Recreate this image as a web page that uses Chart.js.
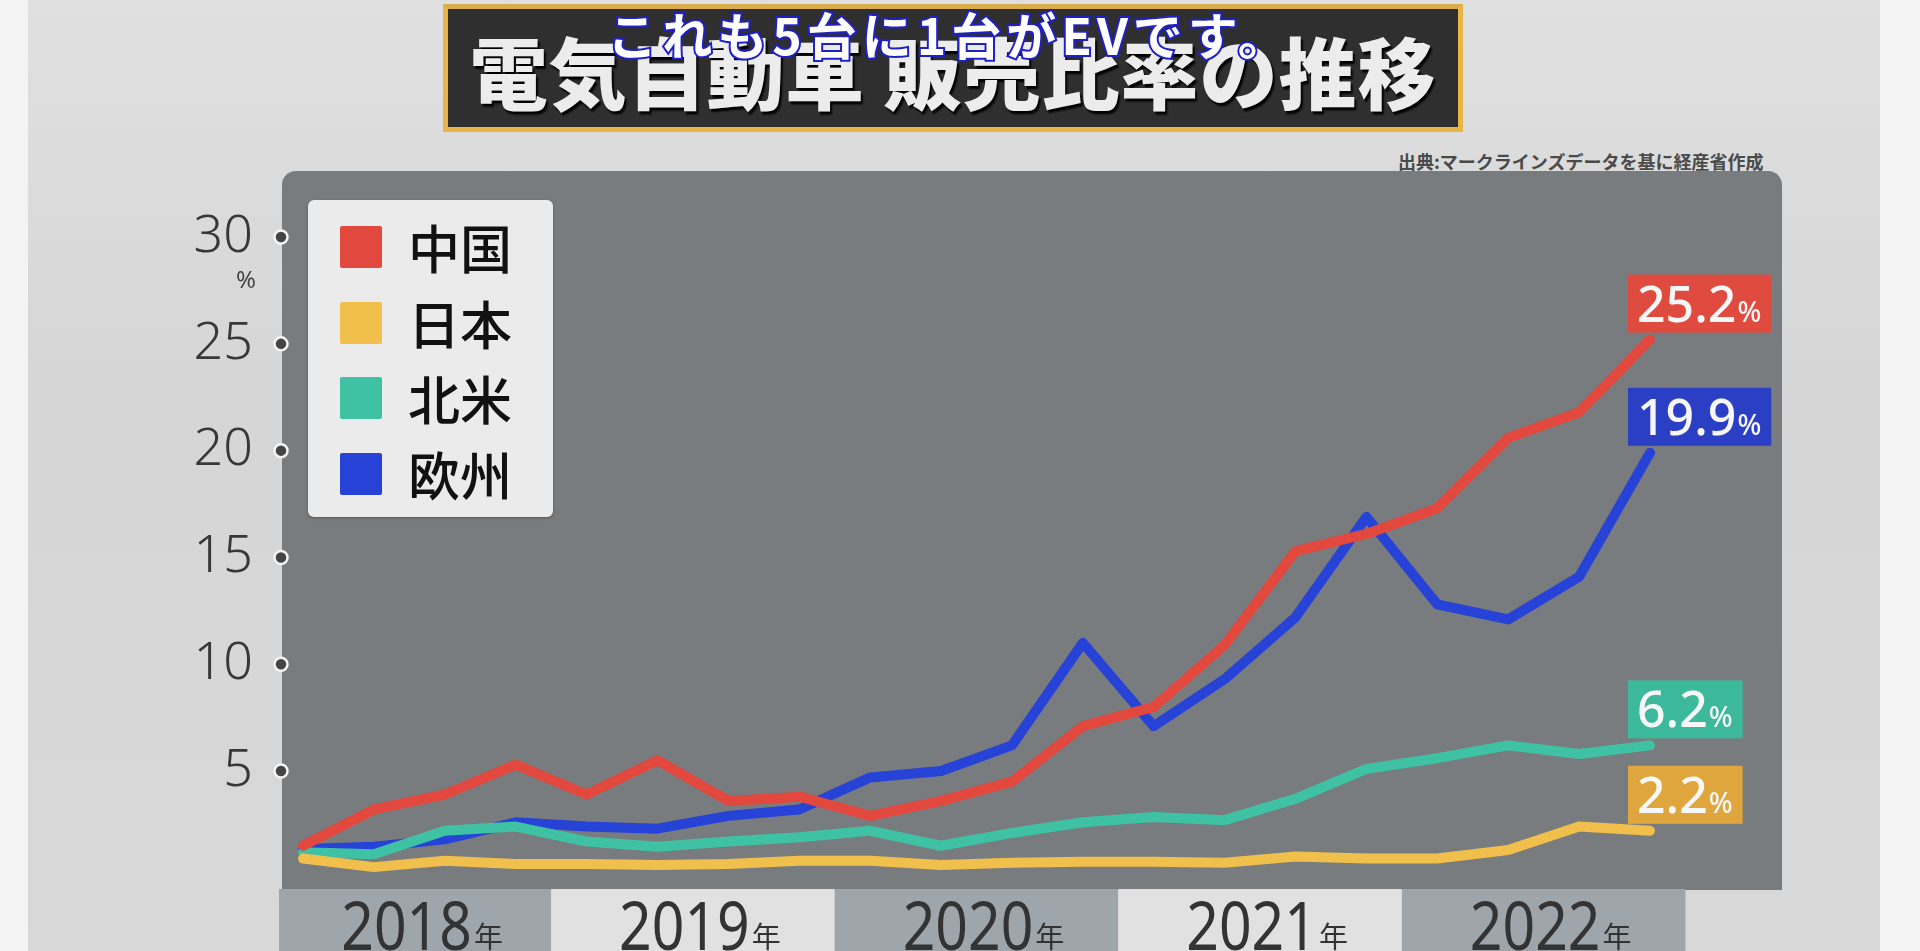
<!DOCTYPE html>
<html>
<head>
<meta charset="utf-8">
<script src="https://cdn.jsdelivr.net/npm/chart.js@4.4.0/dist/chart.umd.min.js"></script>
<style>
  html, body { margin: 0; padding: 0; }
  body { width: 1920px; height: 951px; overflow: hidden; position: relative; background: #f3f3f3; font-family: 'Noto Sans CJK JP', 'Noto Sans', sans-serif; }
  #bg { position: absolute; left: 28px; top: 0; width: 1852px; height: 951px; background: linear-gradient(to bottom, #e0e0e0, #d6d6d6 40%, #d8d8d8); }
  #titleBox { position: absolute; left: 443px; top: 4px; width: 1010px; height: 118px; background: #2f2f2f; border: 5px solid #e7b646; border-top-color: #d8ad4a; }
  #title { position: absolute; left: 0; right: 0; top: 22px; text-align: center; color: #ececec; font-size: 78px; font-weight: 900; letter-spacing: 1px; line-height: 1; text-shadow: 2px 3px 2px #000; }
  #caption { position: absolute; left: 520px; width: 860px; top: 8px; text-align: center; font-size: 50px; font-weight: 700; line-height: 1; letter-spacing: 5px; color: #fff; -webkit-text-stroke: 4px #2020c8; paint-order: stroke fill; }
  #source { position: absolute; left: 1398px; top: 148px; font-size: 18px; font-weight: 700; color: #4a4a4a; white-space: nowrap; }
  #panel { position: absolute; left: 282px; top: 171px; width: 1500px; height: 719px; background: #797c7f; border-radius: 14px 14px 0 0; }
  #wrap { position: absolute; left: 0; top: 0; width: 1920px; height: 951px; }
  #legend { position: absolute; left: 308px; top: 200px; width: 245px; height: 317px; background: #ebebeb; border-radius: 6px; box-shadow: 0 1px 3px rgba(0,0,0,0.3); }
  .row { position: absolute; left: 32px; height: 52px; display: flex; align-items: center; }
  .sw { width: 42px; height: 42px; border-radius: 2px; margin-right: 26px; }
  .lbl { font-size: 52px; font-weight: 500; color: #111; line-height: 1; }
</style>
</head>
<body>
<div id="bg"></div>
<div id="titleBox"><div id="title">電気自動車 販売比率の推移</div></div>
<div id="caption">これも5台に1台がEVです。</div>
<div id="source">出典:マークラインズデータを基に経産省作成</div>
<div id="panel"></div>
<div id="wrap"><canvas id="myChart"></canvas></div>
<div id="legend"></div>
<script>
// quarterly share of EV sales, 2018 Q1 - 2022 Q4 (%)
var quarters = ["2018Q1","2018Q2","2018Q3","2018Q4","2019Q1","2019Q2","2019Q3","2019Q4",
                "2020Q1","2020Q2","2020Q3","2020Q4","2021Q1","2021Q2","2021Q3","2021Q4",
                "2022Q1","2022Q2","2022Q3","2022Q4"];
var years = ["2018", "2019", "2020", "2021", "2022"];
var seriesNames = ["中国", "日本", "北米", "欧州"];
var china  = [1.5, 3.2, 3.9, 5.3, 3.9, 5.5, 3.6, 3.8, 2.9, 3.6, 4.5, 7.1, 8.0, 10.9, 15.3, 16.1, 17.3, 20.6, 21.8, 25.2];
var japan  = [0.9, 0.5, 0.8, 0.65, 0.65, 0.6, 0.65, 0.8, 0.8, 0.6, 0.7, 0.75, 0.75, 0.7, 1.0, 0.9, 0.9, 1.3, 2.4, 2.2];
var northAmerica = [1.2, 1.1, 2.2, 2.4, 1.7, 1.45, 1.7, 1.9, 2.2, 1.5, 2.1, 2.6, 2.85, 2.7, 3.7, 5.1, 5.6, 6.2, 5.8, 6.2];
var europe = [1.35, 1.45, 1.8, 2.6, 2.4, 2.3, 2.9, 3.2, 4.7, 5.0, 6.2, 11.0, 7.1, 9.3, 12.2, 16.9, 12.8, 12.1, 14.1, 19.9];
var yTicks = [5, 10, 15, 20, 25, 30];

var lineColors = ["#e2483d", "#f0bf4c", "#3fc1a4", "#2742d6"];
var boxColors  = ["#e04b40", "#dea63c", "#3cb89b", "#2b3fc4"];
var allSeries = [china, japan, northAmerica, europe];

// legend
var legend = document.getElementById("legend");
for (var i = 0; i < seriesNames.length; i++) {
  legend.innerHTML += '<div class="row" style="top:' + (21 + i * 75.5) + 'px">' +
    '<div class="sw" style="background:' + lineColors[i] + '"></div>' +
    '<div class="lbl">' + seriesNames[i] + '</div></div>';
}

var BAND_LEFT = 279;

var decorPlugin = {
  id: "decor",
  afterDraw: function(chart) {
    var ctx = chart.ctx;
    var xs = chart.scales.x, ys = chart.scales.y;
    var step = xs.getPixelForValue(1) - xs.getPixelForValue(0);
    // year bands
    for (var i = 0; i < years.length; i++) {
      var l = i === 0 ? BAND_LEFT : xs.getPixelForValue(i * 4) - step / 2;
      var r = xs.getPixelForValue(i * 4 + 3) + step / 2;
      ctx.fillStyle = i % 2 === 0 ? "#9ea6ab" : "#e1e1e1";
      ctx.fillRect(l, 889, r - l, 62);
      ctx.fillStyle = "#333";
      ctx.font = "400 68px 'Noto Sans'";
      var w1 = ctx.measureText(years[i]).width * 0.84;
      ctx.font = "400 29px 'Noto Sans CJK JP'";
      var w2 = ctx.measureText("年").width;
      var cx = (l + r) / 2 + 6;
      var x0 = cx - (w1 + w2) / 2;
      ctx.textBaseline = "alphabetic";
      ctx.textAlign = "left";
      ctx.save();
      ctx.translate(x0, 950);
      ctx.scale(0.84, 1);
      ctx.font = "400 68px 'Noto Sans'";
      ctx.fillText(years[i], 0, 0);
      ctx.restore();
      ctx.font = "400 29px 'Noto Sans CJK JP'";
      ctx.fillText("年", x0 + w1 + 2, 948);
    }
    // tick dots on the panel edge
    yTicks.forEach(function(v) {
      var y = ys.getPixelForValue(v);
      ctx.beginPath();
      ctx.arc(281, y, 6.5, 0, Math.PI * 2);
      ctx.fillStyle = "#444";
      ctx.fill();
      ctx.lineWidth = 2.5;
      ctx.strokeStyle = "#f4f4f4";
      ctx.stroke();
    });
    // unit
    ctx.fillStyle = "#444";
    ctx.font = "400 24px 'Noto Sans'";
    ctx.textAlign = "center";
    ctx.textBaseline = "middle";
    ctx.fillText("%", 246, ys.getPixelForValue(30) + 44);
    // end value boxes
    chart.data.datasets.forEach(function(ds, di) {
      var pt = chart.getDatasetMeta(di).data[ds.data.length - 1];
      var txt = ds.data[ds.data.length - 1].toFixed(1);
      ctx.font = "500 50px 'Noto Sans'";
      var nw = ctx.measureText(txt).width;
      ctx.font = "500 28px 'Noto Sans'";
      var pw = ctx.measureText("%").width;
      var bx = pt.x - 22, bh = 58, by = pt.y - 36 - bh / 2;
      var bw = nw + pw + 20;
      ctx.fillStyle = boxColors[di];
      ctx.fillRect(bx, by, bw, bh);
      ctx.fillStyle = "#f7f7f7";
      ctx.textAlign = "left";
      ctx.textBaseline = "alphabetic";
      ctx.font = "500 50px 'Noto Sans'";
      ctx.fillText(txt, bx + 9, by + bh - 11);
      ctx.font = "500 28px 'Noto Sans'";
      ctx.fillText("%", bx + 10 + nw, by + bh - 11);
    });
  }
};

new Chart("myChart", {
  type: "line",
  data: {
    labels: quarters,
    datasets: allSeries.map(function(d, i) {
      return {
        label: seriesNames[i],
        data: d,
        borderColor: lineColors[i],
        borderWidth: 10,
        pointRadius: 0,
        tension: 0,
        borderJoinStyle: "round",
        borderCapStyle: "round",
        fill: false
      };
    })
  },
  options: {
    responsive: true,
    maintainAspectRatio: false,
    animation: false,
    layout: { padding: { left: 0, right: 270, top: 173, bottom: 65 } },
    plugins: { legend: { display: false }, tooltip: { enabled: false } },
    scales: {
      x: { display: false, offset: false },
      y: {
        min: 0, max: 33,
        afterFit: function(s) { s.width = 303; },
        grid: { display: false },
        border: { display: false },
        ticks: {
          stepSize: 5,
          includeBounds: false,
          padding: 42,
          color: "#383838",
          font: { family: "'Noto Sans'", size: 52, weight: "300" },
          callback: function(v) { return yTicks.indexOf(v) >= 0 ? String(v) : ""; }
        }
      }
    }
  },
  plugins: [decorPlugin]
});
</script>
</body>
</html>
